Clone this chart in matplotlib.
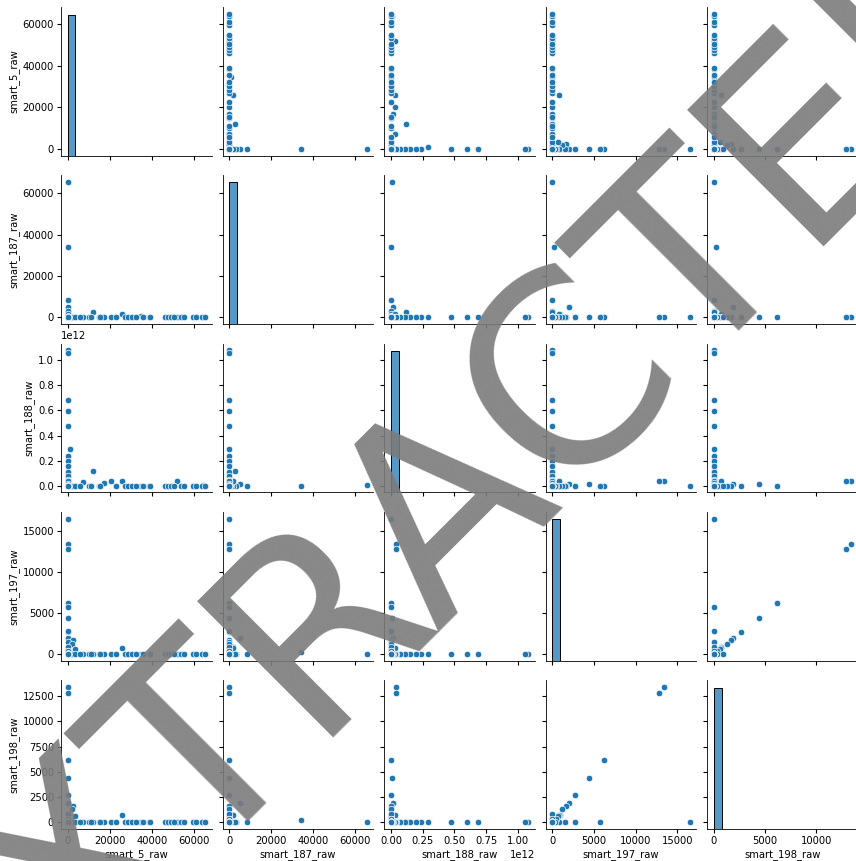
import numpy as np
import pandas as pd
import matplotlib
matplotlib.use("Agg")
import matplotlib.pyplot as plt
import seaborn as sns

plt.rcParams["font.size"] = 7.2
plt.rcParams["axes.labelsize"] = 7.2
plt.rcParams["xtick.labelsize"] = 7.2
plt.rcParams["ytick.labelsize"] = 7.2
plt.rcParams["xtick.major.size"] = 2.6
plt.rcParams["ytick.major.size"] = 2.6
plt.rcParams["xtick.major.pad"] = 2.4
plt.rcParams["ytick.major.pad"] = 2.4
plt.rcParams["axes.labelpad"] = 2.5
plt.rcParams["axes.linewidth"] = 0.6

# drives with at least one non-zero SMART counter
smart_5 = [0, 0, 0, 0, 0, 0, 34700, 25800, 12000,
           0, 0, 0, 0, 0, 800, 0, 0, 0, 0, 0, 0,
           7400, 20300, 51800, 17000, 64000,
           0, 0, 0, 0, 0, 0, 0, 0, 2500, 0, 2000, 3500, 0, 0, 0, 0, 0,
           1900, 3500, 5600, 9900, 11000, 14700, 15300, 22700, 27100, 28300,
           30200, 32300, 35700, 38400, 38900, 46000, 47600, 49100, 50400,
           53600, 55000, 59500, 60900, 63800, 65100]
smart_187 = [65500, 34000, 8200, 4900, 3000, 1600, 780, 1560, 2700,
             0, 0, 0, 0, 0, 0, 0, 0, 0, 0, 0, 0,
             0, 0, 0, 0, 0,
             0, 0, 0, 0, 0, 0, 0, 0, 0, 0, 0, 0, 0, 0, 0, 0, 0,
             0, 0, 0, 0, 0, 0, 0, 0, 0, 0,
             0, 0, 0, 0, 0, 0, 0, 0, 0,
             0, 0, 0, 0, 0, 0]
smart_188 = [0.005e12, 0, 0, 0.013e12, 0, 0, 0, 0.036e12, 0.12e12,
             1.08e12, 1.055e12, 0.686e12, 0.598e12, 0.473e12, 0.29e12,
             0.24e12, 0.194e12, 0.154e12, 0.109e12, 0.074e12, 0.043e12,
             0.03e12, 0.036e12, 0.036e12, 0.018e12, 0.008e12,
             0, 0.037e12, 0.037e12, 0, 0, 0.01e12, 0, 0, 0, 0, 0, 0, 0, 0, 0, 0, 0,
             0, 0, 0, 0, 0, 0, 0, 0, 0, 0,
             0, 0, 0, 0, 0, 0, 0, 0, 0,
             0, 0, 0, 0, 0, 0]
smart_197 = [0, 240, 0, 1950, 0, 870, 0, 750, 0,
             0, 0, 0, 0, 0, 0, 0, 0, 0, 0, 0, 0,
             0, 0, 0, 0, 0,
             16500, 13400, 12850, 6250, 5750, 4400, 2700, 2750, 1650, 1460,
             1200, 650, 0, 850, 400, 300, 0,
             0, 0, 0, 0, 0, 0, 0, 0, 0, 0,
             0, 0, 0, 0, 0, 0, 0, 0, 0,
             0, 0, 0, 0, 0, 0]
smart_198 = [0, 200, 0, 1910, 0, 720, 0, 690, 0,
             0, 0, 0, 0, 0, 0, 0, 0, 0, 0, 0, 0,
             0, 0, 0, 0, 0,
             0, 13400, 12850, 6200, 0, 4400, 2650, 0, 1650, 0,
             1300, 590, 860, 0, 350, 0, 300,
             0, 0, 0, 0, 0, 0, 0, 0, 0, 0,
             0, 0, 0, 0, 0, 0, 0, 0, 0,
             0, 0, 0, 0, 0, 0]
# the bulk of the drives report zero on every counter
n_all_zero = 3000

cols = ["smart_5_raw", "smart_187_raw", "smart_188_raw", "smart_197_raw", "smart_198_raw"]
df = pd.DataFrame(dict(zip(cols, [smart_5, smart_187, smart_188, smart_197, smart_198])))
zeros = pd.DataFrame(np.zeros((n_all_zero, len(cols))), columns=cols)
df = pd.concat([df, zeros], ignore_index=True)

g = sns.pairplot(df, height=1.72, diag_kws=dict(bins=18, linewidth=0.7),
                 plot_kws=dict(s=22, linewidth=0.5))
fig = g.figure
fig.set_size_inches(8.56, 8.61)
fig.subplots_adjust(left=61 / 856, right=858 / 856, bottom=1 - 829 / 861,
                    top=1 - 7 / 861, wspace=0.07, hspace=0.131)

fig.text(454 / 856, 1 - 487 / 861, "EXTRACTED", fontsize=190, rotation=45,
         rotation_mode="anchor", ha="center", va="center",
         color="#7b7b7b", alpha=0.9, zorder=10)

fig.savefig("out.png", dpi=100)
